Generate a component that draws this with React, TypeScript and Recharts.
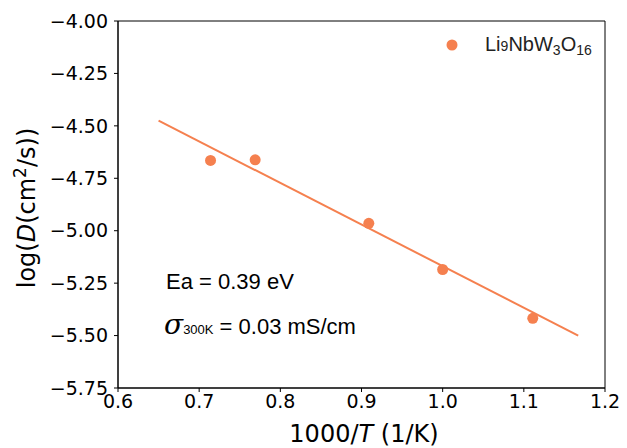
import React from "react";
import {
  ComposedChart,
  XAxis,
  YAxis,
  Scatter,
  Line,
  ReferenceArea,
  Legend,
} from "recharts";

const seriesName = "Li9NbW3O16";
const inverseT = [0.714, 0.769, 0.909, 1.0, 1.111];
const logD = [-4.665, -4.662, -4.965, -5.185, -5.418];
const fitX = [0.65, 1.167];
const fitY = [-4.475, -5.5];
const xTicks = [0.6, 0.7, 0.8, 0.9, 1.0, 1.1, 1.2];
const yTicks = [-5.75, -5.5, -5.25, -5.0, -4.75, -4.5, -4.25, -4.0];

const COLOR = "#f5804f";

const pointData = inverseT.map((x, i) => ({ x, y: logD[i] }));
const fitData = fitX.map((x, i) => ({ x, y: fitY[i] }));

const tickStyle = { fontFamily: "DejaVu Sans", fontSize: 19, fill: "#000" };

const fmtY = (v: number) => v.toFixed(2).replace("-", "\u2212");
const fmtX = (v: number) => v.toFixed(1);

const LegendContent = () => (
  <svg width={170} height={30} style={{ overflow: "visible" }}>
    <circle cx={10} cy={15} r={5.5} fill={COLOR} />
    <text
      x={43}
      y={21}
      fontFamily="Liberation Sans, Arial, sans-serif"
      fontSize={20}
      fill="#222"
    >
      Li
      <tspan fontSize={14}>9</tspan>
      NbW
      <tspan fontSize={14} dy={4}>3</tspan>
      <tspan dy={-4}>O</tspan>
      <tspan fontSize={14} dy={4}>16</tspan>
    </text>
  </svg>
);

export default function App() {
  return (
    <div
      style={{
        position: "absolute",
        left: 0,
        top: 0,
        width: 627,
        height: 448,
        background: "#fff",
      }}
    >
      <ComposedChart
        width={627}
        height={448}
        margin={{ top: 21, right: 22, left: 0, bottom: 0 }}
      >
        <XAxis
          type="number"
          dataKey="x"
          domain={[0.6, 1.2]}
          ticks={xTicks}
          tickFormatter={fmtX}
          allowDataOverflow
          height={60}
          tick={tickStyle}
          tickSize={4}
          tickMargin={3}
          stroke="#000"
          tickLine={{ stroke: "#000" }}
          axisLine={{ stroke: "#000" }}
          label={{
            content: () => (
              <text
                x={364}
                y={442}
                textAnchor="middle"
                fontFamily="DejaVu Sans"
                fontSize={24}
                fill="#000"
              >
                1000/<tspan fontStyle="italic">T</tspan> (1/K)
              </text>
            ),
          }}
        />
        <YAxis
          type="number"
          dataKey="y"
          domain={[-5.75, -4.0]}
          ticks={yTicks}
          tickFormatter={fmtY}
          allowDataOverflow
          width={118}
          tick={tickStyle}
          tickSize={4}
          tickMargin={6}
          stroke="#000"
          tickLine={{ stroke: "#000" }}
          axisLine={{ stroke: "#000" }}
          label={{
            content: () => (
              <text
                x={35}
                y={208}
                transform="rotate(-90 35 208)"
                textAnchor="middle"
                fontFamily="DejaVu Sans"
                fontSize={24}
                fill="#000"
              >
                log(<tspan fontStyle="italic">D</tspan>(cm
                <tspan fontSize={17} dy={-9}>2</tspan>
                <tspan dy={9}>/s))</tspan>
              </text>
            ),
          }}
        />
        <ReferenceArea
          x1={0.6}
          x2={1.2}
          y1={-5.75}
          y2={-4.0}
          fill="none"
          fillOpacity={0}
          stroke="#000"
          strokeWidth={1}
          ifOverflow="visible"
        />
        <Line
          data={fitData}
          dataKey="y"
          type="linear"
          stroke={COLOR}
          strokeWidth={2}
          dot={false}
          activeDot={false}
          isAnimationActive={false}
          legendType="none"
        />
        <Scatter
          name={seriesName}
          data={pointData}
          dataKey="y"
          fill={COLOR}
          isAnimationActive={false}
          shape={(p: any) => (
            <circle cx={p.cx} cy={p.cy} r={5.5} fill={COLOR} />
          )}
        />
        <Legend
          layout="vertical"
          align="center"
          verticalAlign="middle"
          content={LegendContent}
          wrapperStyle={{ position: "absolute", left: 442, top: 30, width: 170, height: 30 }}
        />
      </ComposedChart>
      <svg
        width={627}
        height={448}
        style={{ position: "absolute", left: 0, top: 0, pointerEvents: "none" }}
      >
        <text
          x={166}
          y={289}
          fontFamily="Liberation Sans, Arial, sans-serif"
          fontSize={22}
          fill="#000"
        >
          Ea = 0.39 eV
        </text>
        <text
          x={164}
          y={334}
          fontFamily="Liberation Sans, Arial, sans-serif"
          fontSize={22}
          fill="#000"
        >
          <tspan fontFamily="DejaVu Serif" fontStyle="italic" fontSize={28}>
            σ
          </tspan>
          <tspan fontSize={13}>300K</tspan>
          <tspan> = 0.03 mS/cm</tspan>
        </text>
      </svg>
    </div>
  );
}
